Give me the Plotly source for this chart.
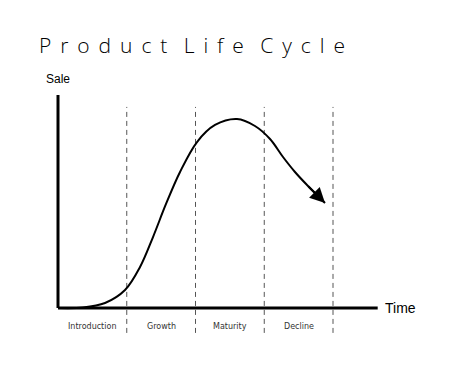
import plotly.graph_objects as go

# ---- data ----
title_text = "Product Life Cycle"
stages = ["Introduction", "Growth", "Maturity", "Decline"]
stage_bounds = [1, 2, 3, 4]          # time at end of each stage
stage_centers = [0.5, 1.5, 2.5, 3.5]

# sales curve (time in stage units, sales in % of axis height)
time_vals = [0.0, 0.364, 0.684, 0.975, 1.193, 1.382, 1.571, 1.775, 2.022, 2.284, 2.604,
             2.865, 3.084, 3.273, 3.447, 3.622, 3.884]
sales_vals = [0.0, 0.23, 2.35, 8.45, 19.25, 33.33, 48.83, 63.85, 77.93, 85.92, 88.73,
              85.45, 79.34, 70.89, 63.85, 57.75, 49.30]

x_axis_end = 4.65
y_axis_top = 100
x_label = "Time"
y_label = "Sale"

W, H = 450, 380
fig = go.Figure()

# dashed stage boundaries
for b in stage_bounds:
    fig.add_trace(go.Scatter(x=[b, b], y=[-11.7, 94.4], mode="lines",
                             line=dict(color="#555555", width=1, dash="5px,4px"),
                             hoverinfo="skip", showlegend=False))

# axes
fig.add_trace(go.Scatter(x=[0, x_axis_end], y=[0, 0], mode="lines",
                         line=dict(color="black", width=3), hoverinfo="skip", showlegend=False))
fig.add_trace(go.Scatter(x=[0, 0], y=[0, y_axis_top], mode="lines",
                         line=dict(color="black", width=3), hoverinfo="skip", showlegend=False))

# curve (arrowhead drawn over its final segment)
fig.add_trace(go.Scatter(x=time_vals, y=sales_vals, mode="lines",
                         line=dict(color="black", width=2, shape="spline", smoothing=1.0),
                         hoverinfo="skip", showlegend=False))

# arrowhead
fig.add_annotation(x=time_vals[-1], y=sales_vals[-1], ax=time_vals[-2], ay=sales_vals[-2],
                   xref="x", yref="y", axref="x", ayref="y", text="", showarrow=True,
                   arrowhead=2, arrowsize=1.5, arrowwidth=2, arrowcolor="black")

# stage labels
for name, c in zip(stages, stage_centers):
    fig.add_annotation(x=c, y=-8.5, text=name, showarrow=False, xref="x", yref="y",
                       font=dict(family="DejaVu Sans", size=8, color="#333333"))

fig.add_annotation(x=x_axis_end, y=0, text=x_label, showarrow=False, xanchor="left",
                   xshift=5, font=dict(family="Liberation Sans", size=14, color="black"))
fig.add_annotation(x=0, y=y_axis_top, text=y_label, showarrow=False, yanchor="bottom",
                   yshift=7, font=dict(family="Liberation Sans", size=12, color="black"))

letter_sep = "\u00a0\u2009"
word_sep = "\u00a0\u00a0\u00a0"
spaced = word_sep.join(letter_sep.join(w) for w in title_text.split(" "))
fig.add_annotation(x=37 / W, y=1 - 45 / H, xref="paper", yref="paper", text=spaced, showarrow=False,
                   xanchor="left", yanchor="middle",
                   font=dict(family="Open Sans", size=21, color="#000000", weight=300))

px_per_t = 68.75
px_per_s = 2.13
ox, oy = 58, 308
fig.update_layout(
    width=W, height=H, margin=dict(l=0, r=0, t=0, b=0),
    paper_bgcolor="white", plot_bgcolor="white",
    xaxis=dict(range=[-ox / px_per_t, (W - ox) / px_per_t], visible=False, fixedrange=True),
    yaxis=dict(range=[-(H - oy) / px_per_s, oy / px_per_s], visible=False, fixedrange=True),
)

fig.write_html("out.html")
